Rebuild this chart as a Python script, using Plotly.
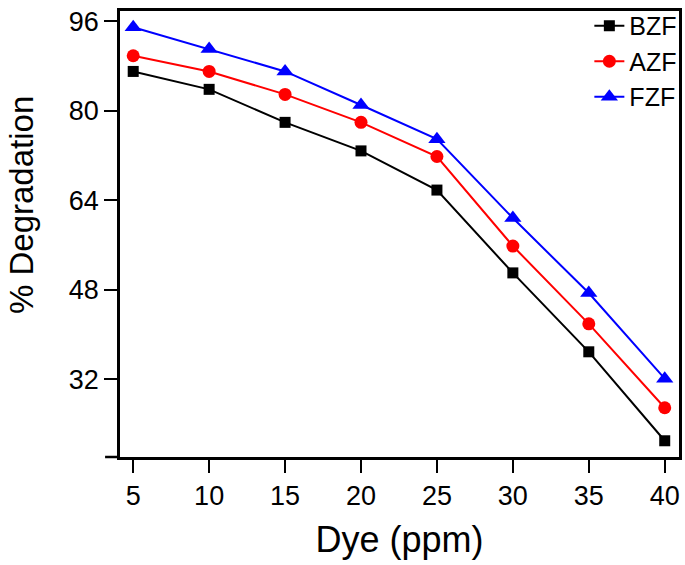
import plotly.graph_objects as go

dye = [5, 10, 15, 20, 25, 30, 35, 40]
bzf = [87.0, 83.8, 77.9, 72.8, 65.8, 51.0, 36.9, 21.0]
azf = [89.8, 87.0, 82.9, 77.9, 71.8, 55.8, 41.9, 26.9]
fzf = [94.9, 91.0, 87.0, 81.0, 74.9, 60.8, 47.4, 32.1]
y_ticks = [32, 48, 64, 80, 96]
x_ticks = [5, 10, 15, 20, 25, 30, 35, 40]

FONT = "Liberation Sans, Arial, sans-serif"

fig = go.Figure()
series = [
    ("BZF", bzf, "#000000", "square", 11),
    ("AZF", azf, "#ff0000", "circle", 13),
    ("FZF", fzf, "#0000ff", "triangle-up", 15),
]
for name, vals, col, sym, sz in series:
    fig.add_trace(go.Scatter(
        x=dye, y=vals, name=name, mode="lines+markers",
        line=dict(color=col, width=2),
        marker=dict(symbol=sym, size=sz, color=col),
    ))

axis_common = dict(
    showgrid=False, zeroline=False, showline=True, linecolor="black",
    linewidth=2.5, mirror=True, ticks="outside", ticklen=13, tickwidth=2,
    tickcolor="black", tickfont=dict(family=FONT, size=27, color="black"),
)

fig.update_layout(
    width=685, height=565,
    margin=dict(l=120, r=3, t=3, b=108),
    paper_bgcolor="white", plot_bgcolor="white",
    font=dict(family=FONT, color="black"),
    xaxis=dict(range=[4.13, 40.94], tickvals=x_ticks,
               title=dict(text="Dye (ppm)", font=dict(family=FONT, size=36), standoff=17),
               **axis_common),
    yaxis=dict(range=[18.1, 97.8], tickvals=y_ticks, **axis_common),
    legend=dict(x=1.006, xanchor="right", y=1.018, yanchor="top",
                bgcolor="rgba(0,0,0,0)", font=dict(family=FONT, size=25),
                tracegroupgap=0),
    showlegend=True,
)

fig.add_annotation(text="% Degradation", xref="paper", yref="paper",
                   x=(21 - 120) / 562, y=(457 - 201) / 454,
                   xanchor="center", yanchor="middle", textangle=-90,
                   showarrow=False, font=dict(family=FONT, size=33, color="black"))

fig.add_shape(type="line", xref="paper", yref="paper",
              x0=-15/562, x1=0, y0=0, y1=0,
              line=dict(color="black", width=2.5))

fig.write_html("out.html", config={"displayModeBar": False},
               post_script="document.body.style.margin='0';document.body.style.overflow='hidden';")
